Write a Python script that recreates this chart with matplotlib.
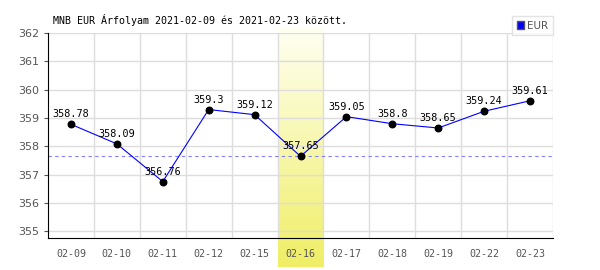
import matplotlib
matplotlib.use("Agg")
import matplotlib.pyplot as plt
import numpy as np
from matplotlib.patches import Rectangle

dates = ["02-09", "02-10", "02-11", "02-12", "02-15", "02-16", "02-17", "02-18", "02-19", "02-22", "02-23"]
rates = [358.78, 358.09, 356.76, 359.3, 359.12, 357.65, 359.05, 358.8, 358.65, 359.24, 359.61]
highlight_idx = 5
ref_value = 357.65
yticks = [355, 356, 357, 358, 359, 360, 361, 362]
title = "MNB EUR Árfolyam 2021-02-09 és 2021-02-23 között."

fig = plt.figure(figsize=(6, 2.7), dpi=100)
ax = fig.add_axes([48/600, 1-238/270, (553-48)/600, (238-33)/270])
x = np.arange(len(dates))
ymin, ymax = 354.77, 362.0
ax.set_xlim(-0.5, len(dates)-0.5)
ax.set_ylim(ymin, ymax)

# gradient highlight band
ppu = (238-33)/(ymax-ymin)
ylow = ymin - (267-238)/ppu
yhigh = ymax + (33-28)/ppu
n = 100
grad = np.linspace(0, 1, n)[:, None]
top = np.array([1.0, 1.0, 0.95])
bot = np.array([0.94, 0.935, 0.40])
img = (top + (bot - top) * grad)[:, None, :]
ax.imshow(img, extent=[highlight_idx-0.5, highlight_idx+0.5, ylow, yhigh],
          aspect='auto', origin='upper', zorder=0, clip_on=False)

for yt in yticks:
    ax.axhline(yt, color='#dddddd', lw=1, zorder=1)
for b in np.arange(0.5, len(dates)-0.5, 1.0):
    ax.axvline(b, color='#dddddd', lw=1, zorder=1)
ax.axvline(len(dates)-0.5, color='#dddddd', lw=1, zorder=1)

ax.axhline(ref_value, color='#8080ff', lw=0.8, ls=(0, (3, 3)), zorder=2)
ax.plot(x, rates, color='#0000ff', lw=0.8, zorder=3)
ax.scatter(x, rates, s=22, color='black', zorder=4)
for xi, v in zip(x, rates):
    ax.annotate(f"{v:g}", (xi, v), xytext=(0, 3.5), textcoords='offset points',
                ha='center', va='bottom', fontsize=7.3,
                family='DejaVu Sans Mono', color='black', zorder=5)

ax.set_xticks(x)
ax.set_xticklabels(dates, family='DejaVu Sans Mono', fontsize=7.2, color='#555555')
ax.set_yticks(yticks)
ax.set_yticklabels([str(v) for v in yticks], fontsize=8, color='#555555')
ax.tick_params(axis='x', length=0, pad=8)
ax.tick_params(axis='y', length=3, color='#555555', pad=3)
for s in ['top', 'right']:
    ax.spines[s].set_visible(False)
ax.spines['left'].set_color('black')
ax.spines['bottom'].set_color('black')

fig.text(53/600, 1-20/270, title, family='DejaVu Sans Mono', fontsize=7.2, va='center', ha='left')

leg = ax.legend(handles=[Rectangle((0, 0), 1, 1, facecolor='#0000ff', edgecolor='#555555')],
                labels=['EUR'], loc='upper right', bbox_to_anchor=(1.0, 1.083),
                fontsize=7.5, frameon=True, fancybox=False, edgecolor='#dddddd',
                handlelength=0.7, handleheight=0.7, handletextpad=0.3, borderpad=0.45,
                borderaxespad=0)
leg.get_frame().set_linewidth(1)
for t in leg.get_texts():
    t.set_color('#555555')

fig.savefig("out.png", dpi=100)
